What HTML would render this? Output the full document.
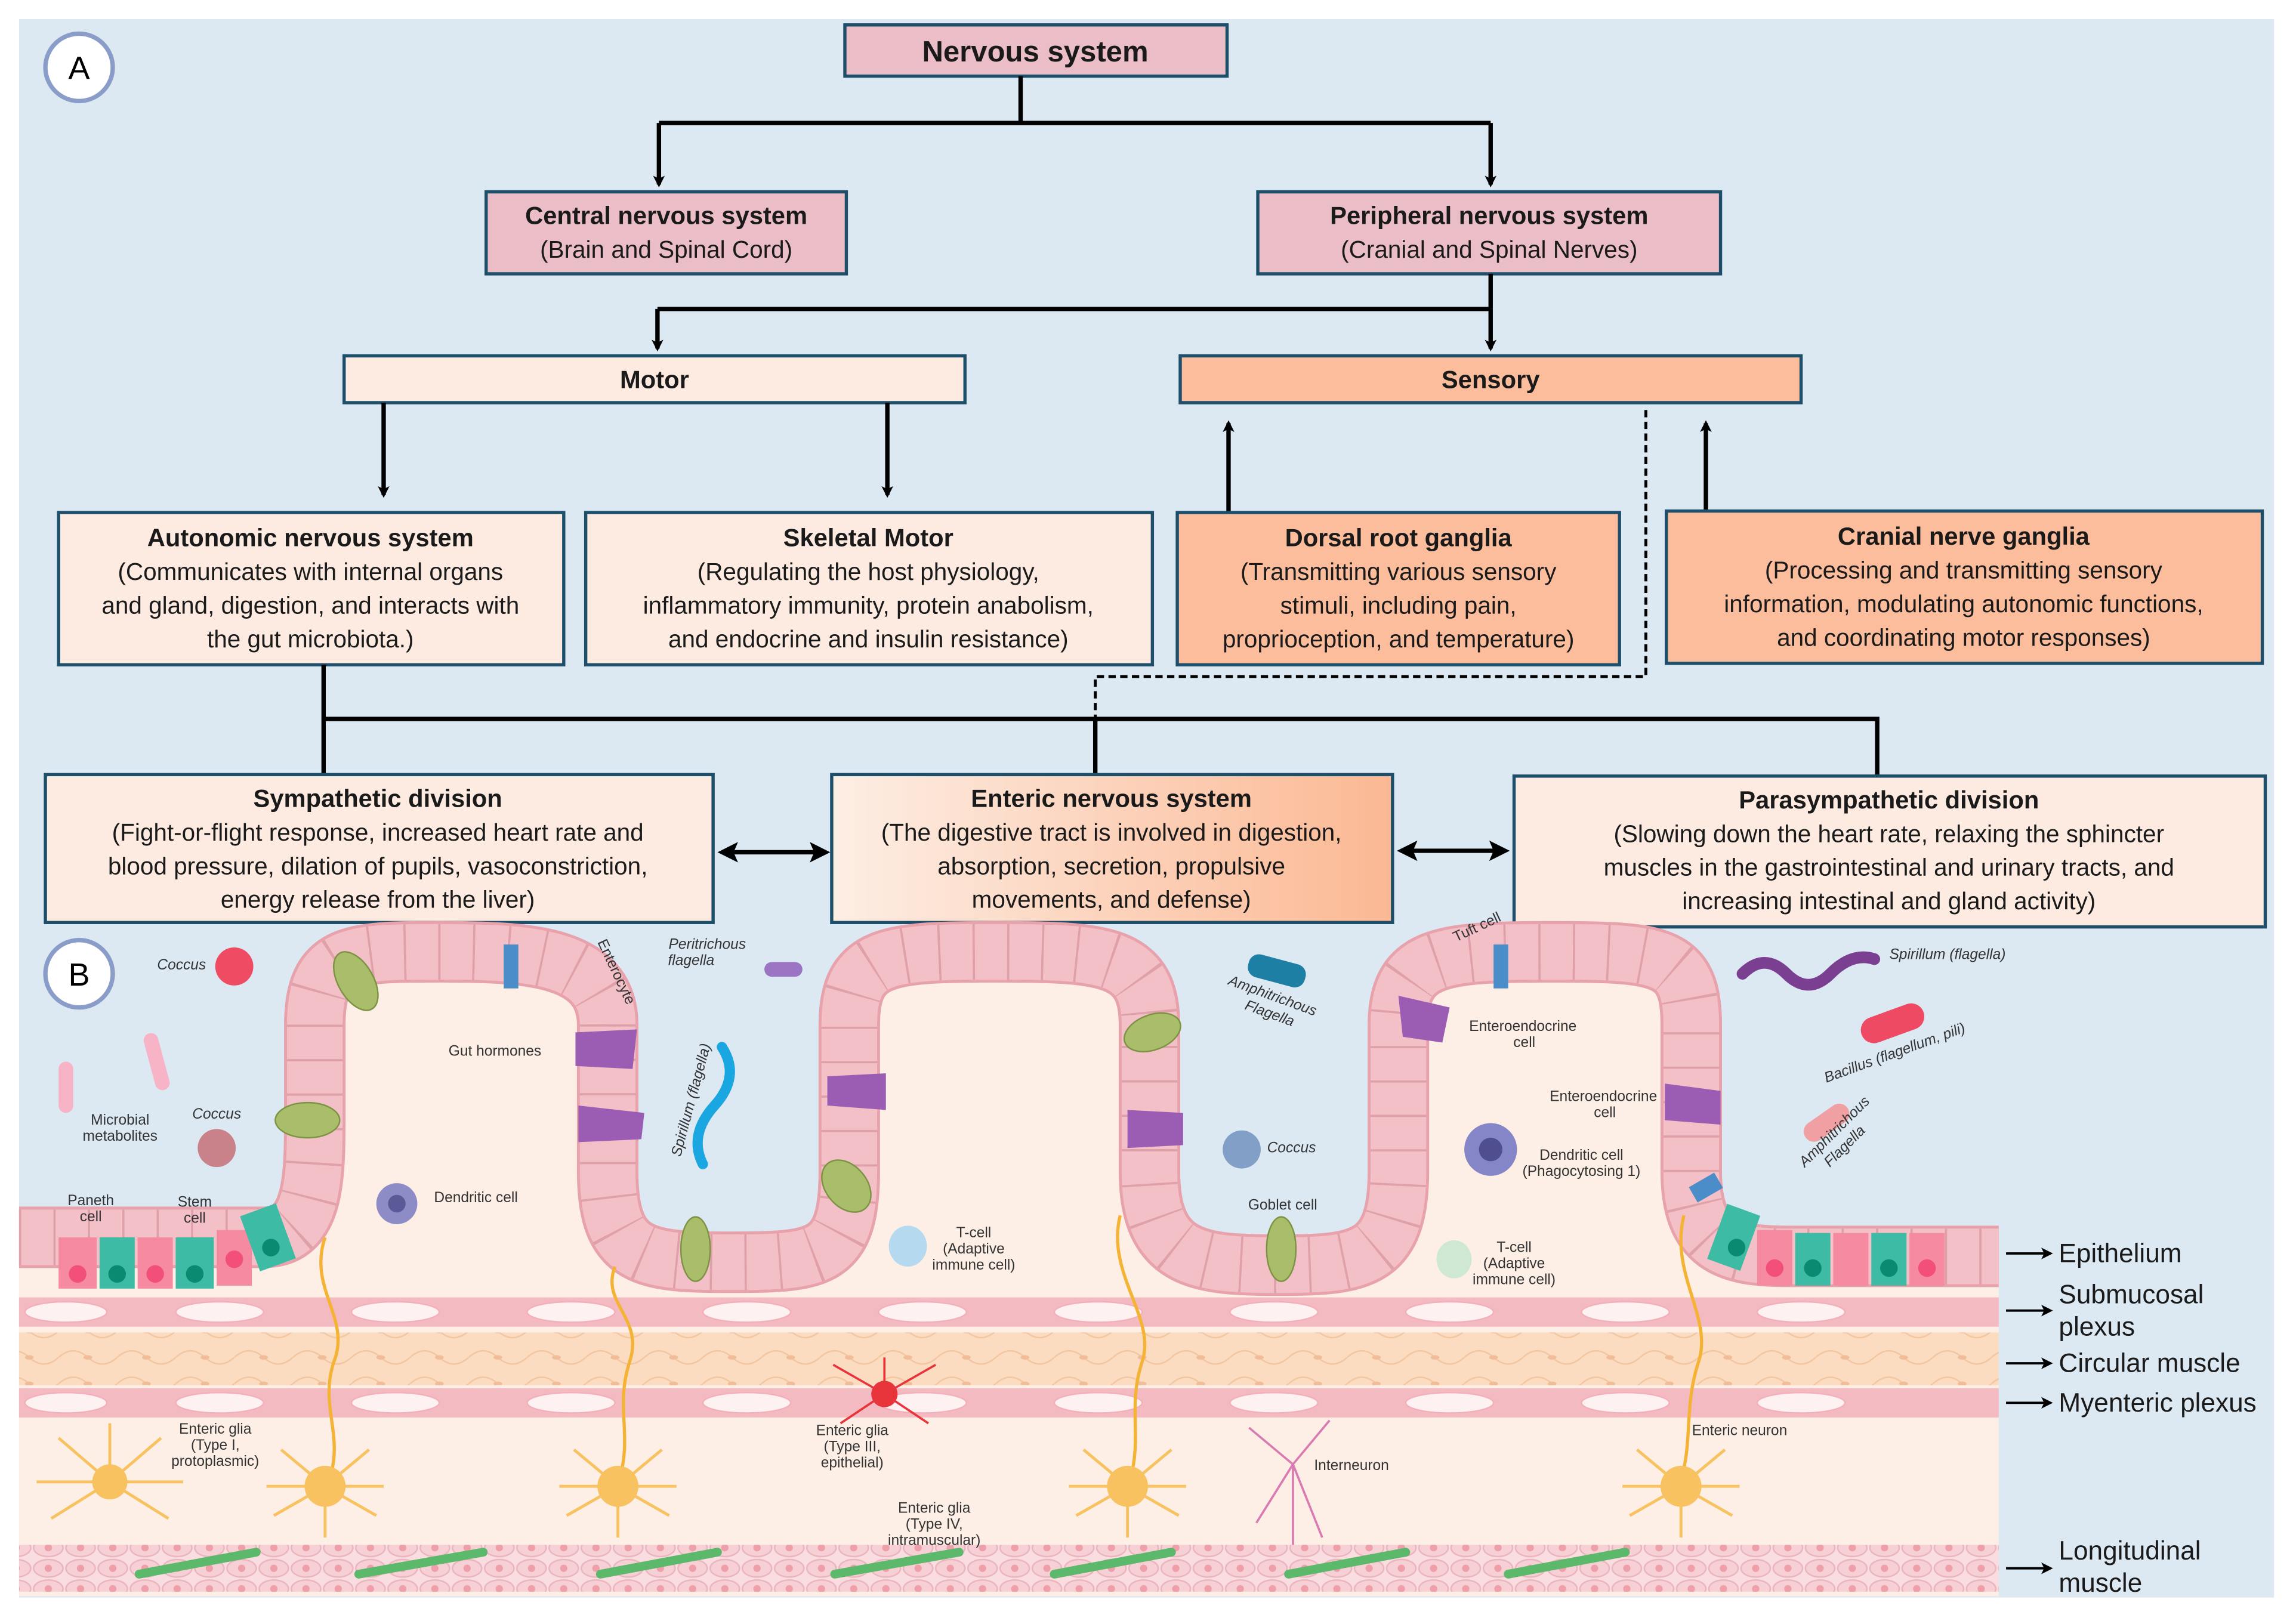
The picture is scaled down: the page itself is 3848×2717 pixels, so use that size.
<!DOCTYPE html>
<html><head><meta charset="utf-8"><style>
html,body{margin:0;padding:0;background:#fff}
svg{display:block}
text{font-family:"Liberation Sans",sans-serif}
.t{font-size:17px;font-weight:bold;fill:#1a1a1a;text-anchor:middle}
.b{font-size:16.5px;fill:#1a1a1a;text-anchor:middle}
.s{font-size:10px;fill:#333;text-anchor:middle}
.i{font-size:10px;fill:#333;font-style:italic;text-anchor:middle}
.r{font-size:18px;fill:#1a1a1a}
.bx{stroke:#1d4e6a;stroke-width:2.2}
.ln{stroke:#000;stroke-width:3;fill:none}
</style></head><body>
<svg width="3848" height="2717" viewBox="0 0 1568 1107" preserveAspectRatio="none" xmlns="http://www.w3.org/2000/svg">
<defs>
<marker id="ah" markerWidth="8" markerHeight="8" refX="6" refY="4" orient="auto" markerUnits="userSpaceOnUse"><path d="M0,0 L8,4 L0,8 L2,4 Z" fill="#000"/></marker>
<marker id="ah2" markerWidth="14" markerHeight="14" refX="11" refY="7" orient="auto-start-reverse" markerUnits="userSpaceOnUse"><path d="M0,0 L14,7 L0,14 L3,7 Z" fill="#000"/></marker>
<linearGradient id="eg" x1="0" x2="1"><stop offset="0" stop-color="#fdeee4"/><stop offset="1" stop-color="#fbb893"/></linearGradient>
<pattern id="cm" width="40" height="18" patternUnits="userSpaceOnUse"><rect width="40" height="18" fill="#fbdcc0"/><path d="M0,9 Q10,0 20,9 T40,9" stroke="#f3c59f" fill="none"/><ellipse cx="20" cy="9" rx="3" ry="1.5" fill="#f1bc98"/></pattern>
<pattern id="lm" width="22" height="14" patternUnits="userSpaceOnUse"><rect width="22" height="14" fill="#f9dde1"/><ellipse cx="11" cy="7" rx="10" ry="6" fill="#f7d0d6" stroke="#eab5bd"/><circle cx="11" cy="7" r="2.5" fill="#ee9faa"/></pattern>
</defs>
<rect width="1568" height="1107" fill="#fff"/>
<rect x="13" y="13" width="1540" height="1078" fill="#dce9f3"/>

<!-- Panel A -->
<circle cx="54" cy="46" r="23" fill="#fff" stroke="#8a9cc8" stroke-width="3"/>
<text x="54" y="54" style="font-size:22px;text-anchor:middle">A</text>

<rect class="bx" x="577" y="17" width="261" height="35" fill="#ebbdc6"/>
<text class="t" x="707" y="42" style="font-size:20px">Nervous system</text>

<path class="ln" d="M697,52 V84 M450,84 H1018"/>
<path class="ln" d="M450,84 V126" marker-end="url(#ah)"/>
<path class="ln" d="M1018,84 V126" marker-end="url(#ah)"/>

<rect class="bx" x="332" y="131" width="246" height="56" fill="#ebbdc6"/>
<text class="t" x="455" y="153">Central nervous system</text>
<text class="b" x="455" y="176">(Brain and Spinal Cord)</text>
<rect class="bx" x="859" y="131" width="316" height="56" fill="#ebbdc6"/>
<text class="t" x="1017" y="153">Peripheral nervous system</text>
<text class="b" x="1017" y="176">(Cranial and Spinal Nerves)</text>

<path class="ln" d="M1018,187 V211 M449,211 H1018"/>
<path class="ln" d="M449,211 V238" marker-end="url(#ah)"/>
<path class="ln" d="M1018,211 V238" marker-end="url(#ah)"/>

<rect class="bx" x="235" y="243" width="424" height="32" fill="#fdebe1"/>
<text class="t" x="447" y="265">Motor</text>
<rect class="bx" x="806" y="243" width="424" height="32" fill="#fbbd9c"/>
<text class="t" x="1018" y="265">Sensory</text>

<path class="ln" stroke-width="2.5" d="M262,275 V338" marker-end="url(#ah)"/>
<path class="ln" stroke-width="2.5" d="M606,275 V338" marker-end="url(#ah)"/>
<path class="ln" stroke-width="2.5" d="M839,350 V289" marker-end="url(#ah)"/>
<path class="ln" stroke-width="2.5" d="M1165,350 V289" marker-end="url(#ah)"/>
<path d="M1124,280 V462 H748 V490" stroke="#000" stroke-width="2" fill="none" stroke-dasharray="5,3"/>

<rect class="bx" x="40" y="350" width="345" height="104" fill="#fdebe1"/>
<text class="t" x="212" y="373">Autonomic nervous system</text>
<text class="b" x="212" y="396">(Communicates with internal organs</text>
<text class="b" x="212" y="419">and gland, digestion, and interacts with</text>
<text class="b" x="212" y="442">the gut microbiota.)</text>

<rect class="bx" x="400" y="350" width="387" height="104" fill="#fdebe1"/>
<text class="t" x="593" y="373">Skeletal Motor</text>
<text class="b" x="593" y="396">(Regulating the host physiology,</text>
<text class="b" x="593" y="419">inflammatory immunity, protein anabolism,</text>
<text class="b" x="593" y="442">and endocrine and insulin resistance)</text>

<rect class="bx" x="804" y="350" width="302" height="104" fill="#fbbd9c"/>
<text class="t" x="955" y="373">Dorsal root ganglia</text>
<text class="b" x="955" y="396">(Transmitting various sensory</text>
<text class="b" x="955" y="419">stimuli, including pain,</text>
<text class="b" x="955" y="442">proprioception, and temperature)</text>

<rect class="bx" x="1138" y="349" width="407" height="104" fill="#fbbd9c"/>
<text class="t" x="1341" y="372">Cranial nerve ganglia</text>
<text class="b" x="1341" y="395">(Processing and transmitting sensory</text>
<text class="b" x="1341" y="418">information, modulating autonomic functions,</text>
<text class="b" x="1341" y="441">and coordinating motor responses)</text>

<path class="ln" d="M221,454 V529 M221,491 H1282 V529 M748,491 V529"/>

<rect class="bx" x="31" y="529" width="456" height="101" fill="#fdebe1"/>
<text class="t" x="258" y="551">Sympathetic division</text>
<text class="b" x="258" y="574">(Fight-or-flight response, increased heart rate and</text>
<text class="b" x="258" y="597">blood pressure, dilation of pupils, vasoconstriction,</text>
<text class="b" x="258" y="620">energy release from the liver)</text>

<rect class="bx" x="568" y="529" width="383" height="101" fill="url(#eg)"/>
<text class="t" x="759" y="551">Enteric nervous system</text>
<text class="b" x="759" y="574">(The digestive tract is involved in digestion,</text>
<text class="b" x="759" y="597">absorption, secretion, propulsive</text>
<text class="b" x="759" y="620">movements, and defense)</text>

<rect class="bx" x="1034" y="530" width="513" height="103" fill="#fdebe1"/>
<text class="t" x="1290" y="552">Parasympathetic division</text>
<text class="b" x="1290" y="575">(Slowing down the heart rate, relaxing the sphincter</text>
<text class="b" x="1290" y="598">muscles in the gastrointestinal and urinary tracts, and</text>
<text class="b" x="1290" y="621">increasing intestinal and gland activity)</text>

<path class="ln" d="M493,582 H564" marker-start="url(#ah2)" marker-end="url(#ah2)"/>
<path class="ln" d="M957,581 H1028" marker-start="url(#ah2)" marker-end="url(#ah2)"/>

<!-- Panel B -->
<path d="M13,845 L180,845 C215,845 215,805 215,760 L215,700 C215,650 240,650 300,650 C360,650 415,652 415,700 L415,800 C415,860 440,862 500,862 C560,862 580,860 580,800 L580,700 C580,652 605,650 680,650 C755,650 785,652 785,700 L785,800 C785,862 820,864 875,864 C930,864 955,860 955,800 L955,700 C955,652 985,650 1060,650 C1135,650 1155,652 1155,700 L1155,800 C1155,850 1180,858 1220,858 L1365,858 L1365,1090 L13,1090 Z" fill="#fdefe6"/>
<path d="M13,845 L180,845 C215,845 215,805 215,760 L215,700 C215,650 240,650 300,650 C360,650 415,652 415,700 L415,800 C415,860 440,862 500,862 C560,862 580,860 580,800 L580,700 C580,652 605,650 680,650 C755,650 785,652 785,700 L785,800 C785,862 820,864 875,864 C930,864 955,860 955,800 L955,700 C955,652 985,650 1060,650 C1135,650 1155,652 1155,700 L1155,800 C1155,850 1180,858 1220,858 L1365,858" fill="none" stroke="#e7a2ac" stroke-width="42"/>
<path d="M13,845 L180,845 C215,845 215,805 215,760 L215,700 C215,650 240,650 300,650 C360,650 415,652 415,700 L415,800 C415,860 440,862 500,862 C560,862 580,860 580,800 L580,700 C580,652 605,650 680,650 C755,650 785,652 785,700 L785,800 C785,862 820,864 875,864 C930,864 955,860 955,800 L955,700 C955,652 985,650 1060,650 C1135,650 1155,652 1155,700 L1155,800 C1155,850 1180,858 1220,858 L1365,858" fill="none" stroke="#f2c0c6" stroke-width="38"/>
<path d="M13,845 L180,845 C215,845 215,805 215,760 L215,700 C215,650 240,650 300,650 C360,650 415,652 415,700 L415,800 C415,860 440,862 500,862 C560,862 580,860 580,800 L580,700 C580,652 605,650 680,650 C755,650 785,652 785,700 L785,800 C785,862 820,864 875,864 C930,864 955,860 955,800 L955,700 C955,652 985,650 1060,650 C1135,650 1155,652 1155,700 L1155,800 C1155,850 1180,858 1220,858 L1365,858" fill="none" stroke="#e0a0aa" stroke-width="38" stroke-dasharray="1.5,22"/>
<!-- crypt cells -->
<g>
<rect x="40" y="845" width="26" height="35" fill="#f58aa0"/><circle cx="53" cy="870" r="6" fill="#f24f7a"/>
<rect x="68" y="845" width="24" height="35" fill="#3dbba5"/><circle cx="80" cy="870" r="6" fill="#0b8a72"/>
<rect x="94" y="845" width="24" height="35" fill="#f58aa0"/><circle cx="106" cy="870" r="6" fill="#f24f7a"/>
<rect x="120" y="845" width="26" height="35" fill="#3dbba5"/><circle cx="133" cy="870" r="6" fill="#0b8a72"/>
<rect x="148" y="840" width="24" height="38" fill="#f58aa0"/><circle cx="160" cy="860" r="6" fill="#f24f7a"/>
<rect x="170" y="825" width="26" height="40" fill="#3dbba5" transform="rotate(-20 183 845)"/><circle cx="185" cy="852" r="6" fill="#0b8a72"/>
<rect x="1172" y="825" width="24" height="40" fill="#3dbba5" transform="rotate(20 1184 845)"/><circle cx="1186" cy="852" r="6" fill="#0b8a72"/>
<rect x="1200" y="840" width="24" height="38" fill="#f58aa0"/><circle cx="1212" cy="866" r="6" fill="#f24f7a"/>
<rect x="1226" y="842" width="24" height="36" fill="#3dbba5"/><circle cx="1238" cy="866" r="6" fill="#0b8a72"/>
<rect x="1252" y="842" width="24" height="36" fill="#f58aa0"/>
<rect x="1278" y="842" width="24" height="36" fill="#3dbba5"/><circle cx="1290" cy="866" r="6" fill="#0b8a72"/>
<rect x="1304" y="842" width="24" height="36" fill="#f58aa0"/><circle cx="1316" cy="866" r="6" fill="#f24f7a"/>
</g>
<!-- goblet & EEC cells -->
<g fill="#a9bd6a" stroke="#7c9343">
<ellipse cx="243" cy="670" rx="12" ry="22" transform="rotate(-30 243 670)"/>
<ellipse cx="210" cy="765" rx="22" ry="12"/>
<ellipse cx="475" cy="853" rx="10" ry="22"/>
<ellipse cx="578" cy="810" rx="14" ry="20" transform="rotate(-40 578 810)"/>
<ellipse cx="787" cy="705" rx="20" ry="12" transform="rotate(-20 787 705)"/>
<ellipse cx="875" cy="853" rx="10" ry="22"/>
</g>
<g fill="#9b5db3">
<path d="M393,705 L435,703 L432,730 L393,728 Z"/><path d="M395,755 L440,760 L438,778 L395,780 Z"/>
<path d="M565,735 L605,733 L605,758 L565,755 Z"/><path d="M770,758 L808,760 L808,782 L770,784 Z"/>
<path d="M955,680 L990,688 L985,712 L958,708 Z"/><path d="M1137,740 L1175,745 L1175,768 L1137,765 Z"/>
</g>
<rect x="344" y="645" width="10" height="30" fill="#4a8dc9"/>
<rect x="1020" y="645" width="10" height="30" fill="#4a8dc9"/>
<rect x="1155" y="805" width="20" height="12" fill="#4a8dc9" transform="rotate(-30 1165 811)"/>

<!-- layers -->
<rect x="13" y="886" width="1352" height="20" fill="#f4bac2"/>
<g fill="#fef1f1" stroke="#f3b0ba">
<ellipse cx="45" cy="896" rx="28" ry="7"/><ellipse cx="150" cy="896" rx="30" ry="7"/><ellipse cx="270" cy="896" rx="30" ry="7"/><ellipse cx="390" cy="896" rx="30" ry="7"/><ellipse cx="510" cy="896" rx="30" ry="7"/><ellipse cx="630" cy="896" rx="30" ry="7"/><ellipse cx="750" cy="896" rx="30" ry="7"/><ellipse cx="870" cy="896" rx="30" ry="7"/><ellipse cx="990" cy="896" rx="30" ry="7"/><ellipse cx="1110" cy="896" rx="30" ry="7"/><ellipse cx="1230" cy="896" rx="30" ry="7"/>
</g>
<rect x="13" y="910" width="1352" height="36" fill="url(#cm)"/>
<rect x="13" y="948" width="1352" height="20" fill="#f4bac2"/>
<g fill="#fef1f1" stroke="#f3b0ba">
<ellipse cx="45" cy="958" rx="28" ry="7"/><ellipse cx="150" cy="958" rx="30" ry="7"/><ellipse cx="270" cy="958" rx="30" ry="7"/><ellipse cx="390" cy="958" rx="30" ry="7"/><ellipse cx="510" cy="958" rx="30" ry="7"/><ellipse cx="630" cy="958" rx="30" ry="7"/><ellipse cx="750" cy="958" rx="30" ry="7"/><ellipse cx="870" cy="958" rx="30" ry="7"/><ellipse cx="990" cy="958" rx="30" ry="7"/><ellipse cx="1110" cy="958" rx="30" ry="7"/><ellipse cx="1230" cy="958" rx="30" ry="7"/>
</g>
<rect x="13" y="1055" width="1352" height="32" fill="url(#lm)"/>
<g stroke="#5cb86a" stroke-width="6" stroke-linecap="round">
<path d="M95,1075 L175,1060"/><path d="M245,1075 L330,1060"/><path d="M410,1075 L490,1060"/><path d="M570,1075 L655,1060"/><path d="M720,1075 L800,1060"/><path d="M880,1075 L960,1060"/><path d="M1030,1075 L1110,1060"/>
</g>

<!-- neurons -->
<g stroke="#f5b335" stroke-width="2.2" fill="none">
<path d="M222,845 C210,880 240,900 228,930 C218,960 235,980 225,1010"/>
<path d="M420,865 C410,890 440,900 430,930 C420,960 432,980 423,1010"/>
<path d="M765,830 C755,870 790,900 780,930 C770,960 780,980 772,1010"/>
<path d="M1150,830 C1140,870 1170,900 1160,930 C1150,960 1156,985 1148,1010"/>
</g>
<g fill="#f7c25f">
<circle cx="222" cy="1015" r="14"/><circle cx="422" cy="1015" r="14"/><circle cx="770" cy="1015" r="14"/><circle cx="1148" cy="1015" r="14"/><circle cx="75" cy="1012" r="12"/>
</g>
<g stroke="#f7c25f" stroke-width="2" fill="none">
<path d="M222,1015 l-35,20 m35,-20 l35,20 m-35,-20 l-30,-25 m30,25 l30,-25 m-30,25 l0,35 m0,-35 l-40,0 m40,0 l40,0"/>
<path d="M422,1015 l-35,20 m35,-20 l35,20 m-35,-20 l-30,-25 m30,25 l30,-25 m-30,25 l0,35 m0,-35 l-40,0 m40,0 l40,0"/>
<path d="M770,1015 l-35,20 m35,-20 l35,20 m-35,-20 l-30,-25 m30,25 l30,-25 m-30,25 l0,35 m0,-35 l-40,0 m40,0 l40,0"/>
<path d="M1148,1015 l-35,20 m35,-20 l35,20 m-35,-20 l-30,-25 m30,25 l30,-25 m-30,25 l0,35 m0,-35 l-40,0 m40,0 l40,0"/>
<path d="M75,1012 l-40,25 m40,-25 l40,25 m-40,-25 l-35,-30 m35,30 l35,-30 m-35,30 l0,-40 m0,40 l-50,0 m50,0 l50,0"/>
</g>
<circle cx="604" cy="952" r="9" fill="#e8353c"/>
<path d="M604,952 l-35,-20 m35,20 l35,-20 m-35,20 l-30,20 m30,-20 l30,20 m-30,-20 l0,-25" stroke="#e8353c" stroke-width="1.5"/>
<path d="M883,1000 l-30,-25 m30,25 l25,-30 m-25,30 l-25,40 m25,-40 l20,50 m-20,-50 l0,55" stroke="#d97ab0" stroke-width="1.5"/>

<!-- immune / bacteria -->
<circle cx="271" cy="822" r="14" fill="#8d8cc7"/><circle cx="271" cy="822" r="6" fill="#5b5a99"/>
<circle cx="1018" cy="785" r="18" fill="#8586c8"/><circle cx="1018" cy="785" r="8" fill="#4f4e8e"/>
<ellipse cx="620" cy="851" rx="13" ry="14" fill="#b5daf0"/>
<ellipse cx="993" cy="860" rx="12" ry="13" fill="#cfe8d3"/>
<circle cx="160" cy="660" r="13" fill="#ef4b63"/>
<circle cx="148" cy="784" r="13" fill="#c98289"/>
<circle cx="848" cy="785" r="13" fill="#829fc8"/>
<rect x="522" y="657" width="26" height="10" rx="5" fill="#9b74c4"/>
<rect x="852" y="655" width="40" height="16" rx="7" fill="#1e7fa5" transform="rotate(15 872 663)"/>
<path d="M1190,665 q15,-15 30,0 t30,0 t30,-10" stroke="#7a3f91" stroke-width="8" fill="none" stroke-linecap="round"/>
<rect x="1270" y="690" width="45" height="18" rx="9" fill="#ef4a63" transform="rotate(-20 1292 699)"/>
<rect x="1230" y="760" width="35" height="14" rx="7" fill="#f0a0a3" transform="rotate(-35 1247 767)"/>
<path d="M480,795 q-10,-20 8,-40 t5,-40" stroke="#1aa6e0" stroke-width="7" fill="none" stroke-linecap="round"/>
<rect x="40" y="725" width="10" height="35" rx="5" fill="#f7b4c6"/>
<rect x="102" y="705" width="10" height="40" rx="5" fill="#f7b4c6" transform="rotate(-15 107 725)"/>

<circle cx="54" cy="665" r="23" fill="#fff" stroke="#8a9cc8" stroke-width="3"/>
<text x="54" y="673" style="font-size:22px;text-anchor:middle">B</text>

<!-- small labels -->
<text class="i" x="124" y="662">Coccus</text>
<text class="i" x="148" y="764">Coccus</text>
<text class="s" x="82" y="768">Microbial</text><text class="s" x="82" y="779">metabolites</text>
<text class="s" x="62" y="823">Paneth</text><text class="s" x="62" y="834">cell</text>
<text class="s" x="133" y="824">Stem</text><text class="s" x="133" y="835">cell</text>
<text class="s" x="338" y="721">Gut hormones</text>
<text class="s" x="325" y="821">Dendritic cell</text>
<text class="s" x="418" y="665" transform="rotate(65 418 665)">Enterocyte</text>
<text class="i" x="483" y="648">Peritrichous</text><text class="i" x="472" y="659">flagella</text>
<text class="i" x="475" y="752" transform="rotate(-75 475 752)">Spirillum (flagella)</text>
<text class="s" x="665" y="845">T-cell</text><text class="s" x="665" y="856">(Adaptive</text><text class="s" x="665" y="867">immune cell)</text>
<text class="i" x="868" y="683" transform="rotate(20 868 683)">Amphitrichous</text><text class="i" x="866" y="695" transform="rotate(20 866 695)">Flagella</text>
<text class="i" x="882" y="787">Coccus</text>
<text class="s" x="876" y="826">Goblet cell</text>
<text class="s" x="1010" y="636" transform="rotate(-25 1010 636)">Tuft cell</text>
<text class="s" x="1040" y="704">Enteroendocrine</text><text class="s" x="1041" y="715">cell</text>
<text class="s" x="1095" y="752">Enteroendocrine</text><text class="s" x="1096" y="763">cell</text>
<text class="s" x="1080" y="792">Dendritic cell</text><text class="s" x="1080" y="803">(Phagocytosing 1)</text>
<text class="s" x="1034" y="855">T-cell</text><text class="s" x="1034" y="866">(Adaptive</text><text class="s" x="1034" y="877">immune cell)</text>
<text class="i" x="1330" y="655">Spirillum (flagella)</text>
<text class="i" x="1295" y="722" transform="rotate(-20 1295 722)">Bacillus (flagellum, pili)</text>
<text class="i" x="1255" y="775" transform="rotate(-45 1255 775)">Amphitrichous</text><text class="i" x="1262" y="785" transform="rotate(-45 1262 785)">Flagella</text>
<text class="s" x="147" y="979">Enteric glia</text><text class="s" x="147" y="990">(Type I,</text><text class="s" x="147" y="1001">protoplasmic)</text>
<text class="s" x="582" y="980">Enteric glia</text><text class="s" x="582" y="991">(Type III,</text><text class="s" x="582" y="1002">epithelial)</text>
<text class="s" x="638" y="1033">Enteric glia</text><text class="s" x="638" y="1044">(Type IV,</text><text class="s" x="638" y="1055">intramuscular)</text>
<text class="s" x="923" y="1004">Interneuron</text>
<text class="s" x="1188" y="980">Enteric neuron</text>

<!-- right labels -->
<g stroke="#000" stroke-width="1.6"><path d="M1370,856 H1400" marker-end="url(#ah)"/><path d="M1370,895 H1400" marker-end="url(#ah)"/><path d="M1370,931 H1400" marker-end="url(#ah)"/><path d="M1370,958 H1400" marker-end="url(#ah)"/><path d="M1370,1071 H1400" marker-end="url(#ah)"/></g>
<text class="r" x="1406" y="862">Epithelium</text>
<text class="r" x="1406" y="890">Submucosal</text><text class="r" x="1406" y="912">plexus</text>
<text class="r" x="1406" y="937">Circular muscle</text>
<text class="r" x="1406" y="964">Myenteric plexus</text>
<text class="r" x="1406" y="1065">Longitudinal</text><text class="r" x="1406" y="1087">muscle</text>
</svg>
</body></html>
